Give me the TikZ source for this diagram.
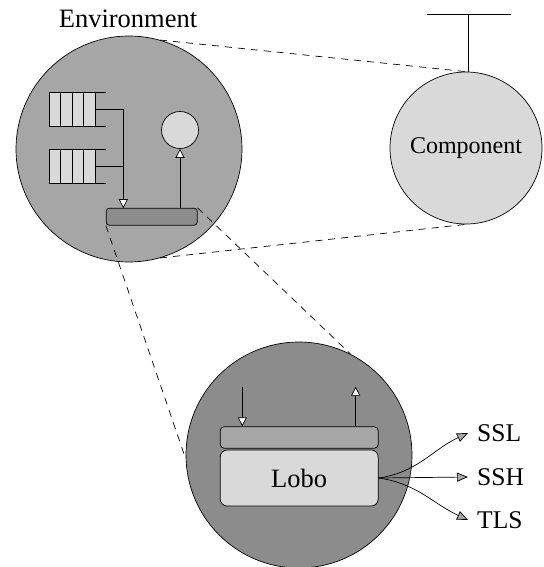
\documentclass[tikz,border=0pt]{standalone}
\usepackage{fontspec}
\setmainfont{Liberation Serif}
\usetikzlibrary{arrows.meta}
\definecolor{lightfill}{HTML}{D9D9D9}
\definecolor{midfill}{HTML}{A6A6A6}
\definecolor{darkfill}{HTML}{8C8C8C}
\tikzset{
  zone/.style={circle, draw, line width=0.7pt, inner sep=0pt},
  caption/.style={font=\fontsize{#1}{28}\selectfont, inner sep=0pt},
  caption/.default=25,
  slab/.style={draw, rounded corners=3pt, line width=0.7pt, inner sep=0pt},
  flow/.style={-{Triangle[fill=white, length=9pt, width=9pt]}, line width=0.7pt},
  proto/.style={-{Triangle[fill=black!35, length=11pt, width=9pt]}, line width=0.7pt},
  zoomline/.style={dash pattern=on 7pt off 6pt, line width=0.7pt}
}
\begin{document}
\begin{tikzpicture}[x=1pt, y=-1pt]
      \useasboundingbox (0,0) rectangle (543,567);
      % environment
      \node (envlabel) [caption=26.5] at (128,19) {Environment};
      \node (env) [zone, fill=midfill, minimum size=226pt] at (129,149) {};
      \node (res) [zone, fill=lightfill, minimum size=37pt] at (180,130) {};
      \node (envbar) [slab, fill=darkfill, minimum width=91pt, minimum height=17pt] at (151.7,216.7) {};
      % queues
      \foreach \qy/\qn in {92/q1, 149/q2} {
        \foreach \i in {0,...,3}
          \draw [fill=lightfill, line width=0.7pt] (49.3+11.43*\i,\qy) rectangle ++(11.43,34);
        \draw [line width=0.7pt] (95,\qy) -- (106,\qy);
        \draw [line width=0.7pt] (95,\qy+34) -- (106,\qy+34);
        \coordinate (\qn) at (95,\qy+17);
      }
      \coordinate (drop) at (123.3,208.2);
      \draw [flow] (q1) -| (drop);
      \draw [line width=0.7pt] (q2) -- (q2 -| drop);
      \draw [flow] (envbar.north -| res) -- (res.south);
      % component
      \node (comp) [zone, fill=lightfill, minimum size=152pt, caption=24] at (466,148) {Component};
      \coordinate (stem) at (468.5,14.7);
      \draw [line width=1.6pt] (426.7,14.7) -- (511,14.7);
      \draw [line width=1.6pt] (stem) -- (comp.north -| stem);
      \draw [zoomline] (env.74) -- (comp.north);
      \draw [zoomline] (env.-74) -- (comp.south);
      % lobo
      \node (lobozone) [zone, fill=darkfill, minimum size=226pt] at (299,455) {};
      \node (lobobar) [slab, fill=midfill, rounded corners=4pt, minimum width=158pt, minimum height=21.6pt] at (299.2,437.5) {};
      \node (lobo) [slab, fill=lightfill, rounded corners=7pt, minimum width=158pt, minimum height=56pt, caption=26.5] at (299.2,478) {Lobo};
      \draw [zoomline] (envbar.south west) -- (lobozone.182);
      \draw [zoomline] (envbar.north east) -- (lobozone.63);
      \coordinate (inlet) at (242.3,386.7);
      \coordinate (outlet) at (355.7,386.7);
      \draw [flow] (inlet) -- (inlet |- lobobar.north);
      \draw [flow] (outlet |- lobobar.north) -- (outlet);
      % protocols
      \node (ssl) [caption=25.5, anchor=west, inner xsep=9pt] at (468,433) {SSL};
      \node (ssh) [caption=25.5, anchor=west, inner xsep=9pt] at (468,477) {SSH};
      \node (tls) [caption=25.5, anchor=west, inner xsep=9pt] at (468,520) {TLS};
      \draw [proto] (lobo.east) to[out=8, in=205] (ssl.west);
      \draw [proto] (lobo.east) -- (ssh.west);
      \draw [proto] (lobo.east) to[out=-8, in=155] (tls.west);
\end{tikzpicture}
\end{document}
